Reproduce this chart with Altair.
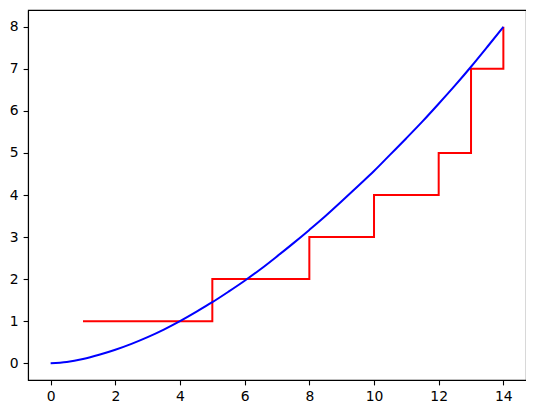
import altair as alt
import pandas as pd

# Blue curve
curve_x = [0, 0.5, 1, 1.5, 2, 2.5, 3, 3.5, 4, 4.5, 5, 5.5, 6, 6.5, 7, 7.5, 8, 8.5, 9, 9.5, 10,
           10.5, 11, 11.5, 12, 12.5, 13, 13.5, 14]
curve_y = [0.0, 0.03, 0.10, 0.20, 0.32, 0.46, 0.62, 0.80, 1.00, 1.22, 1.45, 1.70, 1.96, 2.24, 2.54,
           2.85, 3.17, 3.50, 3.85, 4.21, 4.57, 4.96, 5.35, 5.75, 6.17, 6.60, 7.05, 7.52, 8.0]

# Red step series
step_x = [1, 5, 8, 10, 12, 13, 14]
step_y = [1, 2, 3, 4, 5, 7, 8]

curve = pd.DataFrame({"x": curve_x, "y": curve_y})
steps = pd.DataFrame({"x": step_x, "y": step_y})

xs = alt.Scale(domain=[-0.7, 14.7], nice=False, zero=False)
ys = alt.Scale(domain=[-0.4, 8.4], nice=False, zero=False)

common = dict(title=None, grid=False, tickSize=4.9, tickWidth=1.1,
              labelFontSize=13.9, labelFont="DejaVu Sans", labelColor="black", tickColor="black",
              domain=True, domainColor="black", domainWidth=1.1, labelPadding=4.9, labelFlush=False)
xax = alt.Axis(values=[0, 2, 4, 6, 8, 10, 12, 14], **common)
yax = alt.Axis(values=[0, 1, 2, 3, 4, 5, 6, 7, 8], **common)

blue = alt.Chart(curve).mark_line(color="blue", strokeWidth=2, interpolate="monotone").encode(
    x=alt.X("x:Q", scale=xs, axis=xax), y=alt.Y("y:Q", scale=ys, axis=yax))
red = alt.Chart(steps).mark_line(color="red", strokeWidth=2, interpolate="step-after").encode(
    x=alt.X("x:Q", scale=xs), y=alt.Y("y:Q", scale=ys))

chart = alt.layer(red, blue).properties(
    width=498, height=370,
    autosize=alt.AutoSizeParams(type="none"),
    padding={"left": 20, "top": 2, "right": 0, "bottom": 26},
    background="white",
).configure_view(stroke="black", strokeWidth=1.1)

chart.save("out.html", embed_options={"renderer": "svg", "actions": False})
